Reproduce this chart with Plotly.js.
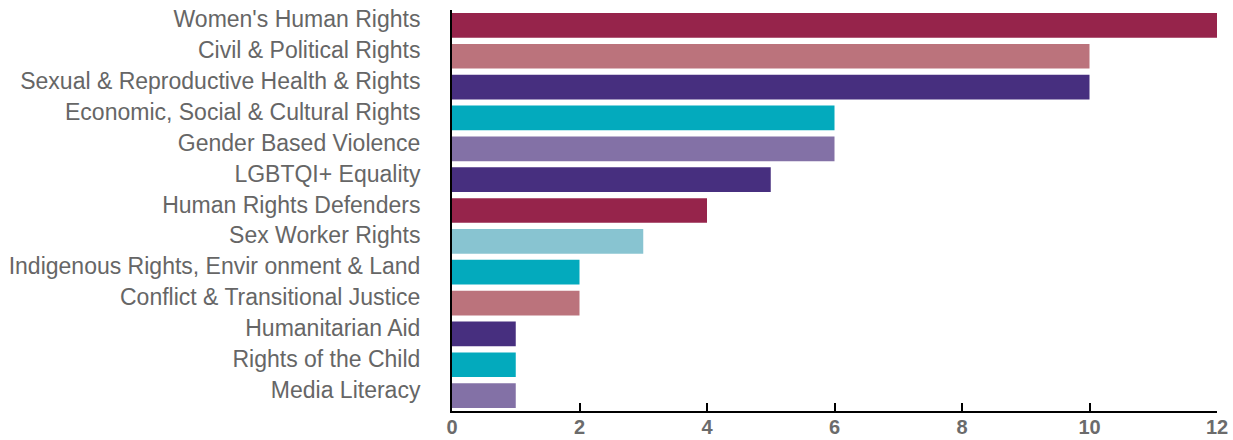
<!DOCTYPE html>
<html><head><meta charset="utf-8">
<script src="https://cdn.plot.ly/plotly-3.0.1.min.js"></script>
<style>html,body{margin:0;padding:0;background:#fff}#chart{width:1233px;height:440px}</style>
</head><body><div id="chart"></div>
<script>
const categories = [
  "Women's Human Rights",
  "Civil & Political Rights",
  "Sexual & Reproductive Health & Rights",
  "Economic, Social & Cultural Rights",
  "Gender Based Violence",
  "LGBTQI+ Equality",
  "Human Rights Defenders",
  "Sex Worker Rights",
  "Indigenous Rights, Envir onment & Land",
  "Conflict & Transitional Justice",
  "Humanitarian Aid",
  "Rights of the Child",
  "Media Literacy"
];
const values = [12, 10, 10, 6, 6, 5, 4, 3, 2, 2, 1, 1, 1];
const colors = ["#96244b","#bb737c","#472f7f","#03aabd","#8371a6","#472f7f","#96244b","#88c4d1","#03aabd","#bb737c","#472f7f","#03aabd","#8371a6"];
const tickVals = [0, 2, 4, 6, 8, 10, 12];

Plotly.newPlot('chart', [{
  type: 'bar',
  orientation: 'h',
  y: categories,
  x: values,
  marker: {color: colors},
  hoverinfo: 'none'
}], {
  width: 1233, height: 440,
  margin: {l: 452, r: 16, t: 10, b: 29, pad: 0},
  bargap: 0.2,
  paper_bgcolor: '#fff', plot_bgcolor: '#fff',
  showlegend: false,
  xaxis: {
    range: [0, 12], tickvals: tickVals, ticktext: tickVals.map(String),
    showgrid: false, zeroline: false,
    showline: true, linecolor: '#000', linewidth: 2,
    ticks: 'inside', ticklen: 8, tickwidth: 2, tickcolor: '#000',
    ticklabelstandoff: -3,
    tickfont: {family: 'Liberation Sans, Arial, sans-serif', size: 20, color: '#6b6b6b', weight: 'bold'},
    fixedrange: true
  },
  yaxis: {
    autorange: 'reversed', showgrid: false, zeroline: false,
    showline: true, linecolor: '#000', linewidth: 2,
    ticks: '', ticklabelstandoff: 25, ticklabelshift: 6,
    tickfont: {family: 'Liberation Sans, Arial, sans-serif', size: 23, color: '#666666'},
    fixedrange: true
  }
}, {displayModeBar: false, staticPlot: true});
</script></body></html>
